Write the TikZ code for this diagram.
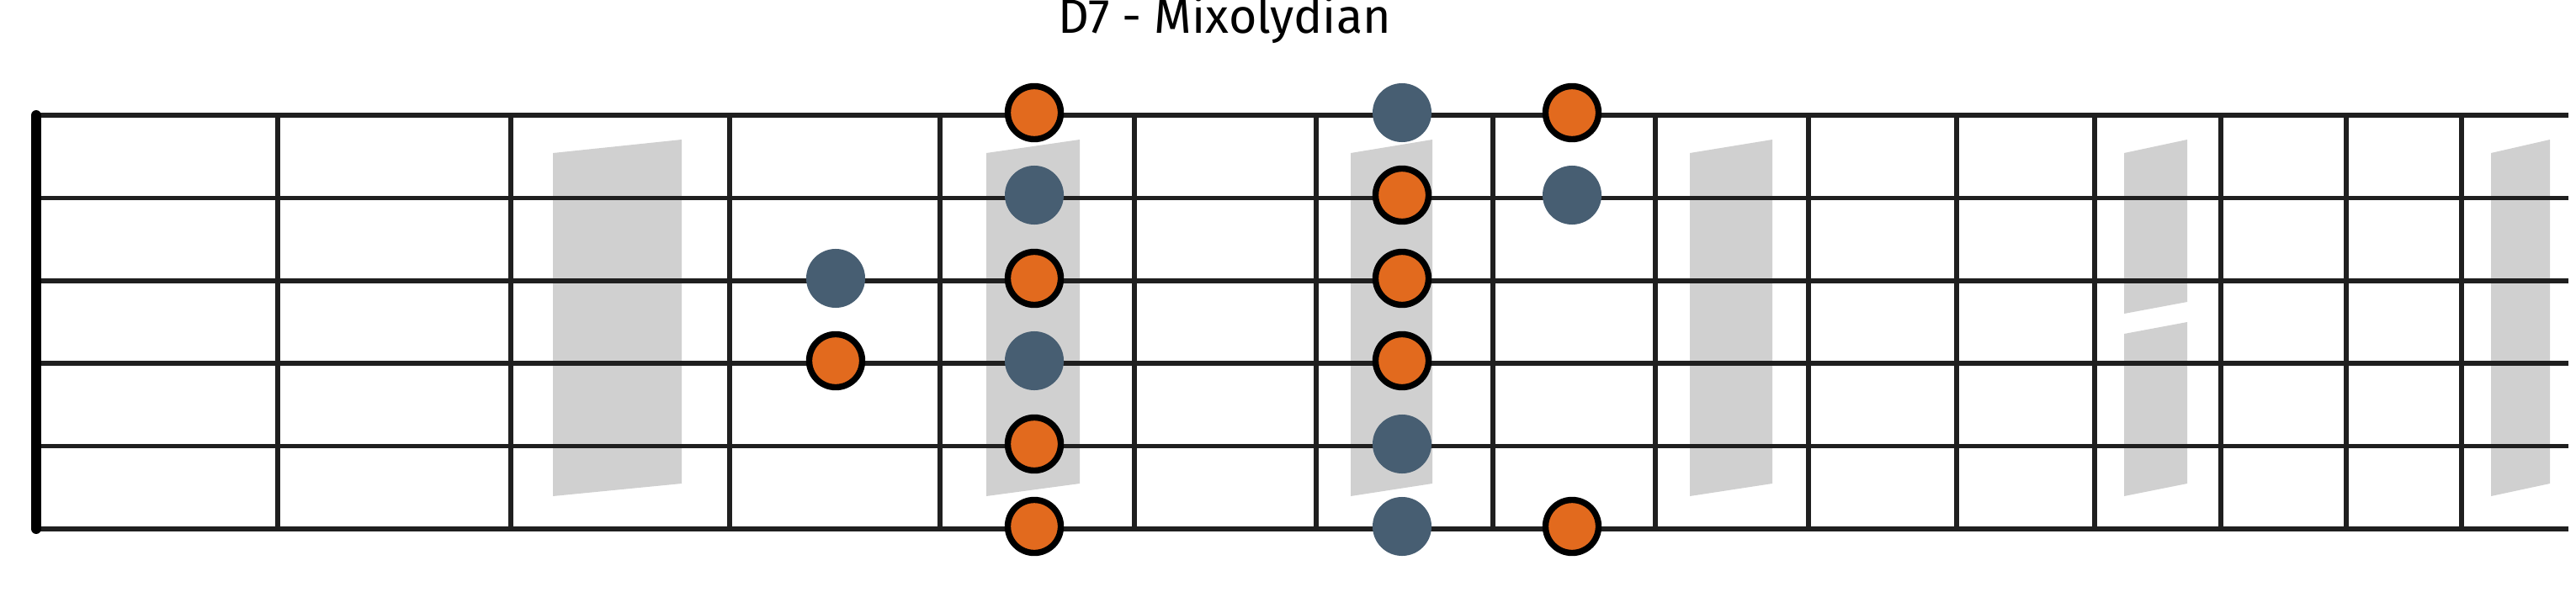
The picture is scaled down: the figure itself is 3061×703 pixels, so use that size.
\documentclass[tikz,border=0pt]{standalone}
\usepackage{fontspec}
\setmainfont{Fira Sans}
\definecolor{dotorange}{RGB}{226,106,30}
\definecolor{dotblue}{RGB}{71,94,114}
\definecolor{inlaygray}{RGB}{208,208,208}
\begin{document}
\begin{tikzpicture}[x=0.01cm,y=-0.01cm,
  stringline/.style={draw=black!88, line width=1.6pt},
  fretline/.style={draw=black!88, line width=1.6pt},
  nutline/.style={draw=black, line width=3.4pt, line cap=round},
  inlay/.style={fill=inlaygray},
  rootdot/.style={circle, fill=dotorange, draw=black, line width=2.1pt, minimum size=0.63cm, inner sep=0pt},
  scaledot/.style={circle, fill=dotblue, minimum size=0.70cm, inner sep=0pt},
  titletext/.style={font=\fontsize{16.3}{19}\selectfont, anchor=base, inner sep=0pt}]
\useasboundingbox[fill=white] (0,0) rectangle (3061,703);
% inlays
\foreach \a/\b in {657/810,1172/1283,1605/1702,2008/2106,2960/3030}
  \fill[inlay] (\a,182) -- (\b,166) -- (\b,575) -- (\a,590) -- cycle;
\fill[inlay] (2524,182) -- (2599,166) -- (2599,359) -- (2524,373) -- cycle;
\fill[inlay] (2524,397) -- (2599,383) -- (2599,575) -- (2524,590) -- cycle;
% strings
\foreach \i in {0,...,5}
  \draw[stringline] (44,137+98.4*\i) -- (3052,137+98.4*\i);
% frets
\foreach \x in {330,607,867,1117,1348,1564,1774,1967,2149,2325,2489,2639,2788,2925}
  \draw[fretline] (\x,137) -- (\x,629);
% nut
\draw[nutline] (43,137) -- (43,629);
% dots
\node[scaledot] (a3) at (993,331) {};
\node[rootdot]  (a4) at (993,429) {};
\node[rootdot]  (b1) at (1229,134) {};
\node[scaledot] (b2) at (1229,232) {};
\node[rootdot]  (b3) at (1229,331) {};
\node[scaledot] (b4) at (1229,429) {};
\node[rootdot]  (b5) at (1229,528) {};
\node[rootdot]  (b6) at (1229,626) {};
\node[scaledot] (c1) at (1666,134) {};
\node[rootdot]  (c2) at (1666,232) {};
\node[rootdot]  (c3) at (1666,331) {};
\node[rootdot]  (c4) at (1666,429) {};
\node[scaledot] (c5) at (1666,528) {};
\node[scaledot] (c6) at (1666,626) {};
\node[rootdot]  (d1) at (1868,134) {};
\node[scaledot] (d2) at (1868,232) {};
\node[rootdot]  (d6) at (1868,626) {};
% title
\node[titletext] (title) at (1455,39) {D7 - Mixolydian};
\end{tikzpicture}
\end{document}
